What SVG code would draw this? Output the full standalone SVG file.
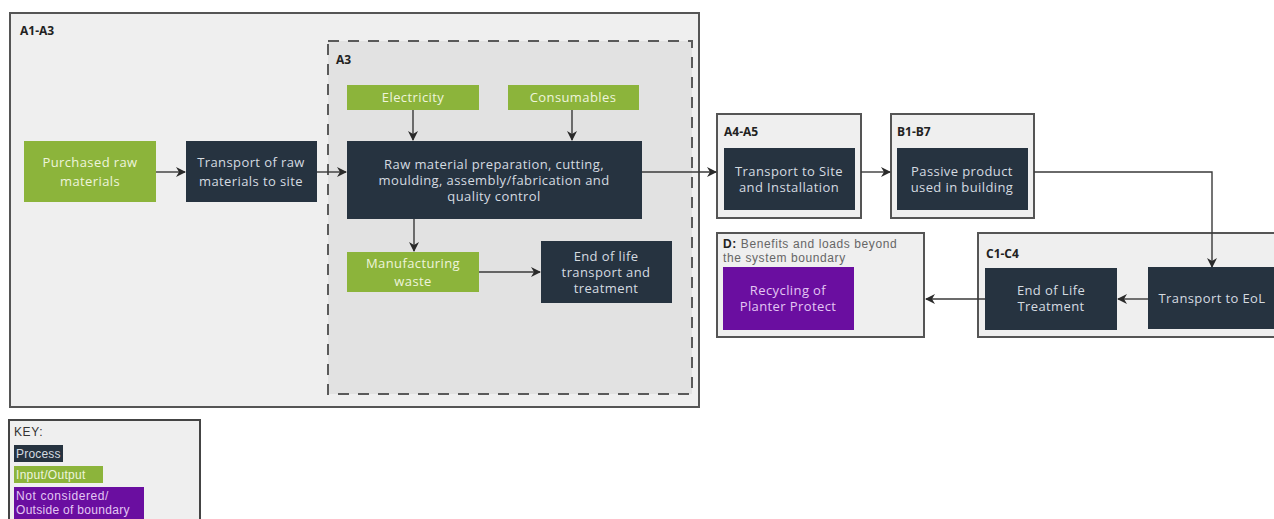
<svg xmlns="http://www.w3.org/2000/svg" width="1274" height="519" viewBox="0 0 1274 519">
<defs>
<style>
.frame{fill:#efefef;stroke:#555;stroke-width:2}
.dash{fill:#e2e2e2;stroke:#5a5a5a;stroke-width:2;stroke-dasharray:11,9}
.proc{fill:#263340}
.io{fill:#8cb43b}
.out{fill:#6a0ea0}
.t{font-family:"Open Sans","Liberation Sans",sans-serif;font-size:13px;letter-spacing:0.4px;text-anchor:middle}
.tp{fill:#d5dbe0}
.ti{fill:#eef4dc}
.to{fill:#e3c6f3}
.lbl{font-family:"Open Sans","Liberation Sans",sans-serif;font-size:12px;font-weight:bold;fill:#222}
.sm{font-family:"Liberation Sans",Arial,sans-serif;font-size:12px;letter-spacing:0.6px;fill:#666}
.c{fill:none;stroke:#3a3a3a;stroke-width:1.4}
</style>
<marker id="ah" viewBox="0 0 10 10" refX="9" refY="5" markerWidth="10" markerHeight="10" markerUnits="userSpaceOnUse" orient="auto">
<path d="M0,0 L10,5 L0,10 L3,5 z" fill="#2a2a2a"/>
</marker>
</defs>
<rect width="1274" height="519" fill="#ffffff"/>

<g id="A1-A3">
<rect class="frame" x="10" y="13" width="689" height="394"/>
<text class="lbl" x="20" y="35">A1-A3</text>
</g>
<g id="A3">
<rect class="dash" x="328" y="41" width="364" height="353"/>
<text class="lbl" x="336" y="64">A3</text>
</g>
<g id="A4-A5">
<rect class="frame" x="717" y="114" width="144" height="104"/>
<text class="lbl" x="724" y="136">A4-A5</text>
</g>
<g id="B1-B7">
<rect class="frame" x="891" y="114" width="143" height="104"/>
<text class="lbl" x="897" y="136">B1-B7</text>
</g>
<g id="C1-C4">
<rect class="frame" x="978" y="233" width="300" height="104"/>
<text class="lbl" x="986" y="258">C1-C4</text>
</g>
<g id="D">
<rect class="frame" x="717" y="233" width="207" height="104"/>
<text class="sm" x="723" y="248"><tspan font-weight="bold" fill="#222">D:</tspan> Benefits and loads beyond</text>
<text class="sm" x="723" y="262">the system boundary</text>
</g>

<g id="connectors">
<line class="c" x1="156" y1="172" x2="185" y2="172" marker-end="url(#ah)"/>
<line class="c" x1="317" y1="172" x2="346" y2="172" marker-end="url(#ah)"/>
<line class="c" x1="413" y1="110" x2="413" y2="140" marker-end="url(#ah)"/>
<line class="c" x1="572" y1="110" x2="572" y2="140" marker-end="url(#ah)"/>
<line class="c" x1="414" y1="219" x2="414" y2="251" marker-end="url(#ah)"/>
<line class="c" x1="479" y1="272" x2="540" y2="272" marker-end="url(#ah)"/>
<line class="c" x1="642" y1="172" x2="716" y2="172" marker-end="url(#ah)"/>
<line class="c" x1="861" y1="172" x2="890" y2="172" marker-end="url(#ah)"/>
<polyline class="c" points="1034,172 1212,172 1212,267" marker-end="url(#ah)"/>
<line class="c" x1="1148" y1="299" x2="1118" y2="299" marker-end="url(#ah)"/>
<line class="c" x1="985" y1="299" x2="926" y2="299" marker-end="url(#ah)"/>
</g>

<g id="purchased">
<rect class="io" x="24" y="141" width="132" height="61"/>
<text class="t ti" x="90" y="167">Purchased raw</text>
<text class="t ti" x="90" y="186">materials</text>
</g>
<g id="transport-raw">
<rect class="proc" x="186" y="141" width="131" height="61"/>
<text class="t tp" x="251" y="167">Transport of raw</text>
<text class="t tp" x="251" y="186">materials to site</text>
</g>
<g id="electricity">
<rect class="io" x="347" y="85" width="132" height="25"/>
<text class="t ti" x="413" y="102">Electricity</text>
</g>
<g id="consumables">
<rect class="io" x="508" y="85" width="131" height="25"/>
<text class="t ti" x="573" y="102">Consumables</text>
</g>
<g id="main-process">
<rect class="proc" x="347" y="141" width="295" height="78"/>
<text class="t tp" x="494" y="169">Raw material preparation, cutting,</text>
<text class="t tp" x="494" y="185">moulding, assembly/fabrication and</text>
<text class="t tp" x="494" y="201">quality control</text>
</g>
<g id="waste">
<rect class="io" x="347" y="252" width="132" height="40"/>
<text class="t ti" x="413" y="268">Manufacturing</text>
<text class="t ti" x="413" y="286">waste</text>
</g>
<g id="eol-transport">
<rect class="proc" x="541" y="241" width="131" height="62"/>
<text class="t tp" x="606" y="261">End of life</text>
<text class="t tp" x="606" y="277">transport and</text>
<text class="t tp" x="606" y="293">treatment</text>
</g>
<g id="transport-site">
<rect class="proc" x="724" y="148" width="131" height="62"/>
<text class="t tp" x="789" y="176">Transport to Site</text>
<text class="t tp" x="789" y="192">and Installation</text>
</g>
<g id="passive">
<rect class="proc" x="897" y="148" width="131" height="62"/>
<text class="t tp" x="962" y="176">Passive product</text>
<text class="t tp" x="962" y="192">used in building</text>
</g>
<g id="transport-eol">
<rect class="proc" x="1148" y="267" width="130" height="62"/>
<text class="t tp" x="1212" y="303">Transport to EoL</text>
</g>
<g id="eol-treatment">
<rect class="proc" x="985" y="268" width="132" height="62"/>
<text class="t tp" x="1051" y="295">End of Life</text>
<text class="t tp" x="1051" y="311">Treatment</text>
</g>
<g id="recycling">
<rect class="out" x="723" y="267" width="131" height="63"/>
<text class="t to" x="788" y="295">Recycling of</text>
<text class="t to" x="788" y="311">Planter Protect</text>
</g>

<g id="key">
<rect x="9" y="420" width="191" height="110" fill="#efefef" stroke="#444" stroke-width="2"/>
<text class="sm" x="14" y="436" style="fill:#333">KEY:</text>
<rect class="proc" x="14" y="445" width="49" height="17"/>
<text class="sm" x="16" y="458" style="fill:#d5dbe0;letter-spacing:0.2px">Process</text>
<rect class="io" x="14" y="466" width="89" height="17"/>
<text class="sm" x="16" y="479" style="fill:#eef4dc;letter-spacing:0.3px">Input/Output</text>
<rect class="out" x="14" y="487" width="130" height="40"/>
<text class="sm" x="16" y="500" style="fill:#e3c6f3">Not considered/</text>
<text class="sm" x="16" y="514" style="fill:#e3c6f3;letter-spacing:0.3px">Outside of boundary</text>
</g>
</svg>
